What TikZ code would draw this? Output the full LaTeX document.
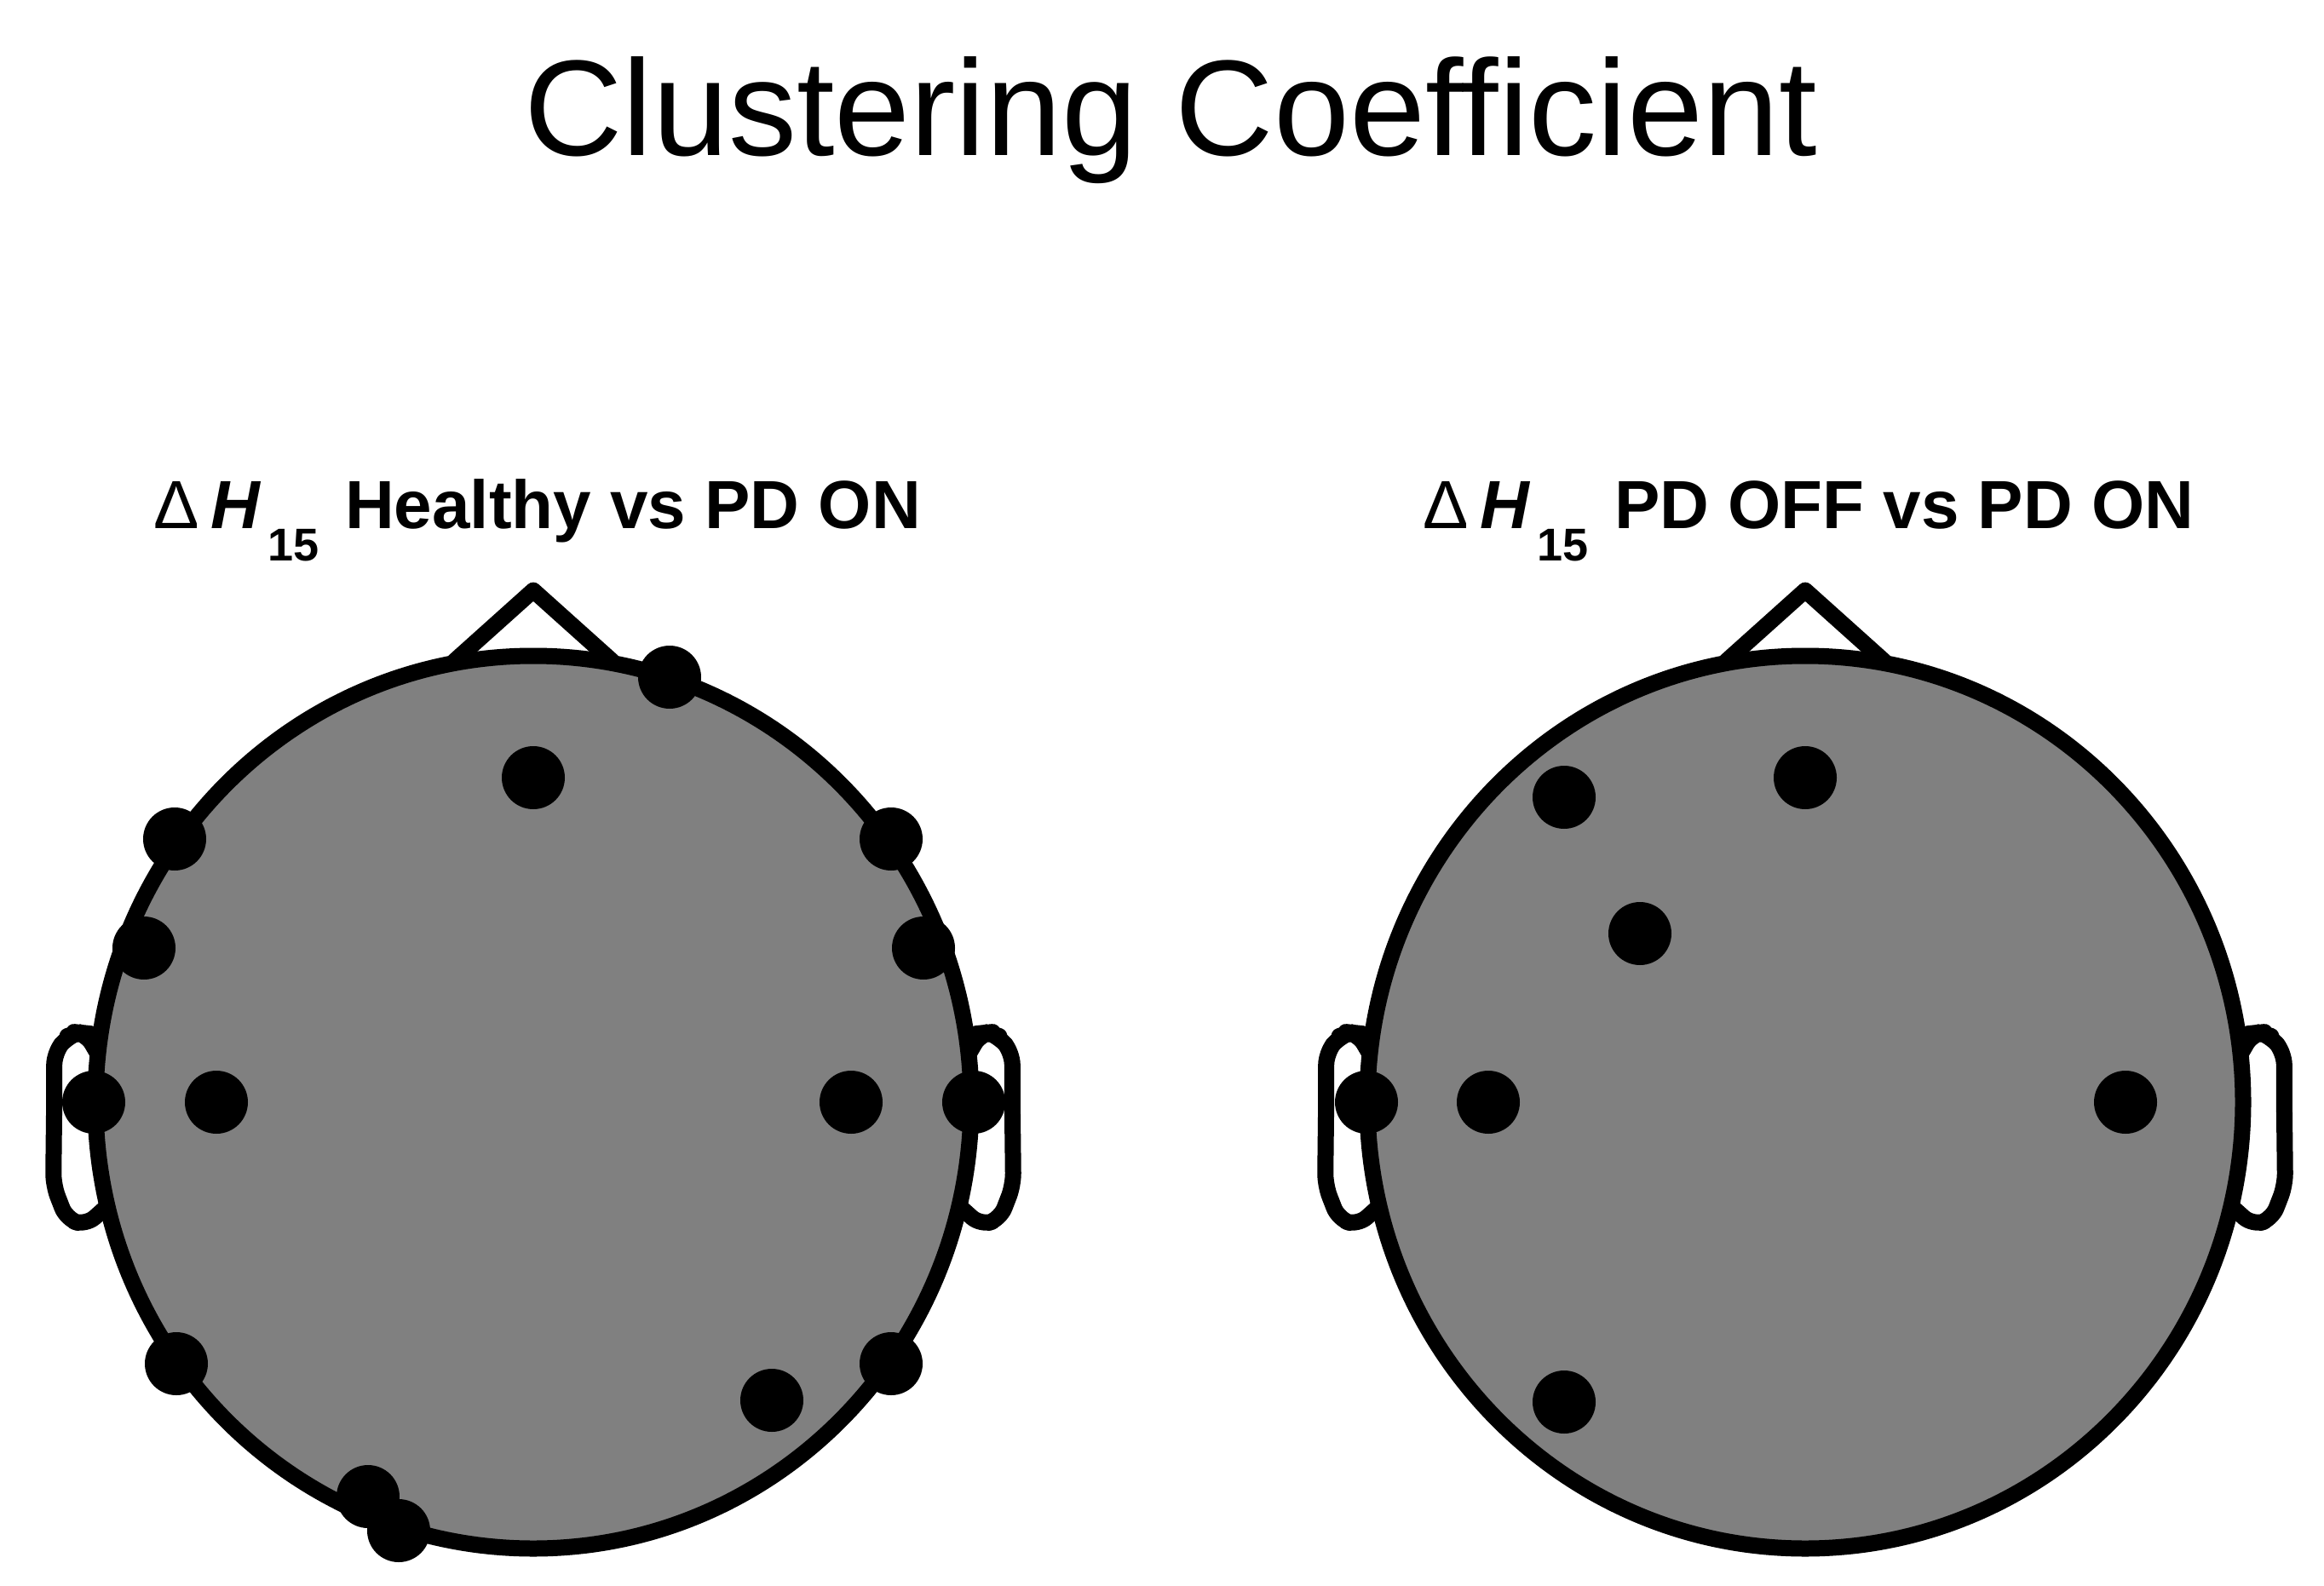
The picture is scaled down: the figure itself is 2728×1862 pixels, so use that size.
\documentclass[tikz,border=0pt]{standalone}
\usepackage{fontspec}
\setmainfont{Liberation Sans}
\definecolor{headgray}{RGB}{128,128,128}
\tikzset{
  headring/.style={draw=black, line width=19pt, fill=headgray},
  outline/.style={draw=black, line width=19pt, line join=round, line cap=round},
  earline/.style={outline, rounded corners=14pt},
  electrode/.style={fill=black},
  titletext/.style={inner sep=0pt, font=\fontsize{160}{160}\selectfont},
  subtext/.style={inner sep=0pt, anchor=base west, font=\fontsize{80}{80}\selectfont\bfseries},
  deltatext/.style={inner sep=0pt, anchor=base west, font=\fontsize{80}{80}\selectfont},
  htext/.style={inner sep=0pt, anchor=base west, font=\fontsize{80}{80}\selectfont\bfseries\itshape},
  subscripttext/.style={inner sep=0pt, anchor=base west, font=\fontsize{54}{54}\selectfont\bfseries},
}
\begin{document}
\begin{tikzpicture}[x=1pt,y=-1pt]
\useasboundingbox (0,0) rectangle (2728,1862);
\node[titletext, anchor=base] (title) at (1374,183) {Clustering Coefficient};
% left subtitle
\node[deltatext] (dL) at (180,620) {Δ};
\node[htext] (hL) at (247,620) {H};
\node[subscripttext] (sL) at (314,658) {15};
\node[subtext] (subL) at (405,620) {Healthy vs PD ON};
% right subtitle
\node[deltatext] (dR) at (1670,620) {Δ};
\node[htext] (hR) at (1737,620) {H};
\node[subscripttext] (sR) at (1804,658) {15};
\node[subtext] (subR) at (1895,620) {PD OFF vs PD ON};
\foreach \cx/\nm in {626/L, 2119/R}{
  \begin{scope}[shift={(\cx,1294)}]
    \draw[headring] (0,0) ellipse [x radius=514, y radius=524];
    \begin{scope}[x=1030pt, y=1045pt]
      \draw[outline] (0.09,0.4954) -- (0,0.575) -- (-0.09,0.4954);
      \draw[earline] (.497,.0555) -- (.510,.0775) -- (.518,.0783) -- (.5299,.0746) -- (.5459,.0555) -- (.546,-.0055) -- (.547,-.0932) -- (.532,-.1313) -- (.510,-.1384) -- (.489,-.1199);
      \draw[earline] (-.497,.0555) -- (-.510,.0775) -- (-.518,.0783) -- (-.5299,.0746) -- (-.5459,.0555) -- (-.546,-.0055) -- (-.547,-.0932) -- (-.532,-.1313) -- (-.510,-.1384) -- (-.489,-.1199);
    \end{scope}
  \end{scope}
}
% electrodes, left head
\foreach \ex/\ey in {786/795, 626/913, 205/985, 1046/985, 169/1113, 1084/1113, 110/1294, 254/1294, 999/1294, 1143/1294, 207/1601, 1046/1601, 906/1644, 432/1757, 468/1797}{
  \fill[electrode] (\ex,\ey) circle [radius=37];
}
% electrodes, right head
\foreach \ex/\ey in {1836/936, 2119/913, 1925/1096, 1604/1294, 1747/1294, 2495/1294, 1836/1646}{
  \fill[electrode] (\ex,\ey) circle [radius=37];
}
\end{tikzpicture}
\end{document}
